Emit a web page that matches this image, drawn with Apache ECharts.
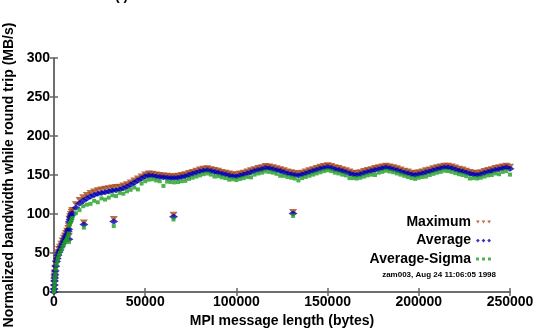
<!DOCTYPE html>
<html>
<head>
<meta charset="utf-8">
<script src="https://cdn.jsdelivr.net/npm/echarts@6/dist/echarts.min.js"></script>
<style>html,body{margin:0;padding:0;background:#fff}#c{width:537px;height:329px}</style>
</head>
<body>
<div id="c"></div>
<script>
var sizes = [0,100,200,300,400,500,700,1000,1400,1800,2200,2700,3300,4000,4700,5400,6000,6600,7200,7800,8100,8192,8400,8800,9200,9600,
10000,12000,14000,16000,16384,18000,20000,22000,24000,26000,28000,30000,32000,32768,34000,36000,38000,40000,42000,44000,46000,48000,50000,
52000,54000,56000,58000,60000,62000,64000,65536,66000,68000,70000,72000,74000,76000,78000,80000,82000,84000,86000,88000,90000,92000,94000,96000,98000,100000,
102000,104000,106000,108000,110000,112000,114000,116000,118000,120000,122000,124000,126000,128000,130000,131072,132000,134000,136000,138000,140000,142000,144000,146000,148000,150000,
152000,154000,156000,158000,160000,162000,164000,166000,168000,170000,172000,174000,176000,178000,180000,182000,184000,186000,188000,190000,192000,194000,196000,198000,200000,
202000,204000,206000,208000,210000,212000,214000,216000,218000,220000,222000,224000,226000,228000,230000,232000,234000,236000,238000,240000,242000,244000,246000,248000,250000];

var maximum = [1,6,12,17,21,25,31,37,43,47,51,55,58,62,66,69.5,72.5,75.5,78.5,82,85,72,94,97,100,103,
105,112.5,118,121.5,89,124.5,127,129,130.5,131.5,132.5,133,134,93.5,134.5,135,136.5,138,140.5,143,145.5,148,150.5,
152,151.5,150.5,150,149.5,149,148.5,99,148.5,149,150,151,152.5,154,155.5,157,158,158.5,157.5,156.5,155.5,154,153,152,151,150.5,
152,153,154.5,156,157.5,159,160,161.5,161,160,158.5,157.5,156,154.5,153.5,102.5,152.5,152,153,154.5,156,157.5,159,160.5,161.5,162.5,
161.5,160,159,157.5,156,154.5,153,152.5,153.5,155,156.5,157.5,159,160,161,162,161,160,158.5,157,155.5,154.5,153,152.5,153.5,
154.5,156,157,158.5,160,161,162,162,161,159.5,158,157,155.5,154,153,152.5,153.5,155,156.5,157.5,159,160,161,162,160.5];

var average = [0,4,9,14,18,22,27,33,39,43,47,51,54,58,62,65.5,68.5,71.5,74.5,78,80.5,67.5,90,93,96,98.5,
101,108,113.5,117,86.5,120,122.5,124.5,126,127,128,129,130,90.5,130.5,131.5,133,135,137.5,140,143,145.5,148,
149.5,149,148,147.5,147,146.5,146,96.5,146,146.5,147.5,148.5,150,151.5,153,154.5,155.5,156,155,154,153,151.5,150.5,149.5,148.5,148,
149.5,150.5,152,153.5,155,156.5,157.5,159,158.5,157.5,156,155,153.5,152,151,100.5,150,149.5,150.5,152,153.5,155,156.5,158,159,160,
159,157.5,156.5,155,153.5,152,150.5,150,151,152.5,154,155,156.5,157.5,158.5,159.5,158.5,157.5,156,154.5,153,152,150.5,150,151,
152,153.5,154.5,156,157.5,158.5,159.5,159.5,158.5,157,155.5,154.5,153,151.5,150.5,150,151,152.5,154,155,156.5,157.5,158.5,159.5,158];

var avgSigma = [0,2,6,10,14,18,23,29,35,39,43,47,50,54,58,61,64,66,69,72,75,64,85,88,90,93,
95,101,105,110,82.5,112,113,117,115,120,118.5,121,124,84.5,123,127,126,129,131,134,131.5,139,142,
144,144.5,143,142,136,141.5,141,93,140.5,141,142,142.5,145,146.5,148,149.5,151,152,150.5,148,148.5,147,146,144,144.5,143.5,
145,146,147.5,147,150.5,152,153,154.5,154,153,151.5,149,149,147.5,146.5,97.5,145.5,143,146,147.5,149,150.5,152,153.5,155,156,
155,153,152,150.5,149.5,146,146,145.5,146.5,148,149.5,150.5,150,153,154,155.5,154.5,153.5,152,150.5,149,147.5,146,145,146.5,
147.5,148,150,151.5,153,154,155.5,155,154,152.5,151,150,148.5,145.5,146,145.5,146.5,148,149.5,150,152,151,154,155,150.5];

var xTicks = [0, 50000, 100000, 150000, 200000, 250000];
var yTicks = [0, 50, 100, 150, 200, 250, 300];

function pairs(vals){ return sizes.map(function(s,i){ return [s, vals[i]]; }); }

var FONT = '"Liberation Sans", Arial, Helvetica, sans-serif';
var axisCol = '#666';

var chart = echarts.init(document.getElementById('c'), null, {renderer:'canvas'});
chart.setOption({
  animation: false,
  backgroundColor: '#fff',
  grid: {left: 54, top: 58, right: 27, bottom: 37, containLabel: false, outerBoundsMode: 'none'},
  xAxis: [{
    type: 'value', min: xTicks[0], max: xTicks[xTicks.length-1], interval: 50000,
    position: 'bottom',
    name: 'MPI message length (bytes)', nameLocation: 'middle', nameGap: 21,
    nameTextStyle: {fontFamily: FONT, fontWeight: 'bold', fontSize: 14, color: '#000'},
    axisLine: {show: true, lineStyle: {color: axisCol, width: 1.5}},
    axisTick: {show: true, inside: true, length: 4, lineStyle: {color: axisCol, width: 1.5}},
    axisLabel: {fontFamily: FONT, fontWeight: 'bold', fontSize: 14, color: '#000', margin: 3,
      formatter: function(v){ return String(v); }},
    splitLine: {show: false}
  },{
    type: 'value', min: xTicks[0], max: xTicks[xTicks.length-1], interval: 50000,
    position: 'top',
    axisLine: {show: true, lineStyle: {color: axisCol, width: 1.5}},
    axisTick: {show: true, inside: true, length: 4, lineStyle: {color: axisCol, width: 1.5}},
    axisLabel: {show: false}, splitLine: {show: false}
  }],
  yAxis: [{
    type: 'value', min: yTicks[0], max: yTicks[yTicks.length-1], interval: 50,
    position: 'left',
    name: 'Normalized bandwidth while round trip (MB/s)', nameLocation: 'middle', nameGap: 30,
    nameTextStyle: {fontFamily: FONT, fontWeight: 'bold', fontSize: 14, color: '#000'},
    axisLine: {show: true, lineStyle: {color: axisCol, width: 1.5}},
    axisTick: {show: true, inside: true, length: 4, lineStyle: {color: axisCol, width: 1.5}},
    axisLabel: {fontFamily: FONT, fontWeight: 'bold', fontSize: 14, color: '#000', margin: 4,
      formatter: function(v){ return String(v); }},
    splitLine: {show: false}
  },{
    type: 'value', min: yTicks[0], max: yTicks[yTicks.length-1], interval: 50,
    position: 'right',
    axisLine: {show: true, lineStyle: {color: axisCol, width: 1.5}},
    axisTick: {show: true, inside: true, length: 4, lineStyle: {color: axisCol, width: 1.5}},
    axisLabel: {show: false}, splitLine: {show: false}
  }],
  legend: {
    orient: 'vertical', right: 41, top: 210, align: 'right', itemGap: 4.5,
    itemWidth: 15, itemHeight: 4, selectedMode: false,
    textStyle: {fontFamily: FONT, fontWeight: 'bold', fontSize: 14, color: '#000'},
    data: [
      {name: 'Maximum', icon: 'path://M0,0L4,0L2,3ZM6,0L10,0L8,3ZM12,0L16,0L14,3Z'},
      {name: 'Average', icon: 'path://M2,0L4,2L2,4L0,2ZM8,0L10,2L8,4L6,2ZM14,0L16,2L14,4L12,2Z'},
      {name: 'Average-Sigma', icon: 'path://M0,0H3V3H0ZM6,0H9V3H6ZM12,0H15V3H12Z'}
    ]
  },
  graphic: [
    {type: 'text', right: 41, top: 271, style: {text: 'zam003, Aug 24 11:06:05 1998', font: 'bold 8px ' + FONT, fill: '#000'}},
    {type: 'text', left: 115, top: -11, style: {text: '( )', font: 'bold 14px ' + FONT, fill: '#000'}}
  ],
  series: [
    {name: 'Maximum', type: 'scatter', data: pairs(maximum), symbol: 'triangle', symbolRotate: 180, symbolSize: [8, 6],
      itemStyle: {color: '#a8481a'}, z: 2},
    {name: 'Average', type: 'scatter', data: pairs(average), symbol: 'diamond', symbolSize: [9, 6],
      itemStyle: {color: '#0000b0'}, z: 3},
    {name: 'Average-Sigma', type: 'scatter', data: pairs(avgSigma), symbol: 'rect', symbolSize: 4,
      itemStyle: {color: '#22a022'}, z: 4}
  ]
});
</script>
</body>
</html>
